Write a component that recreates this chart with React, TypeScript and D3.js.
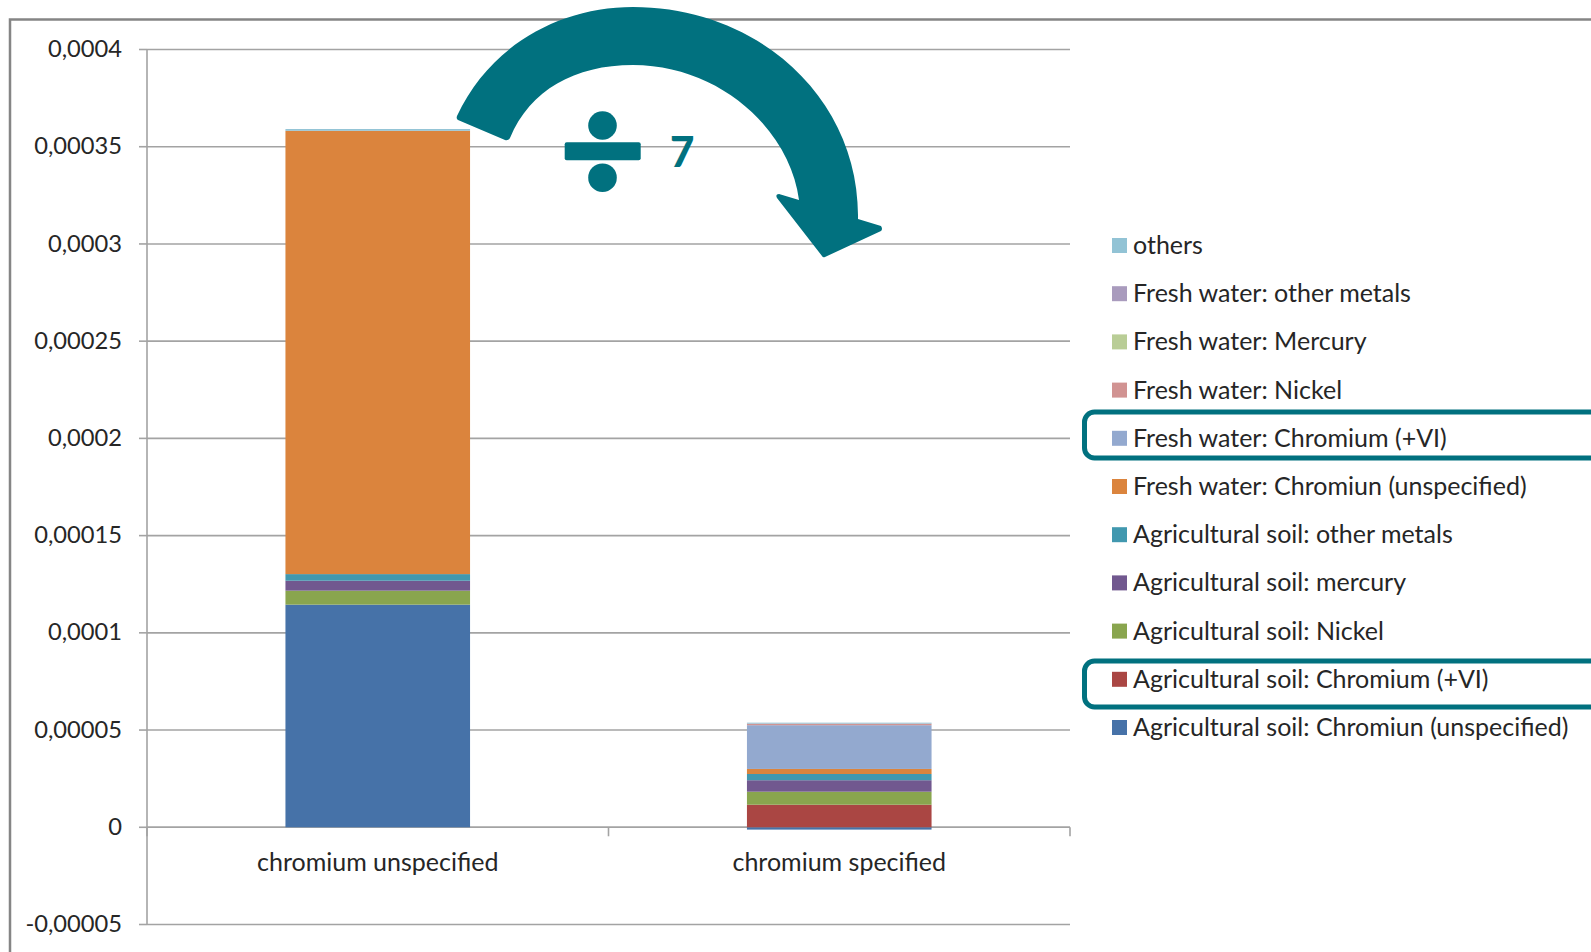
import React, { useEffect, useRef } from "react";
import * as d3 from "d3";

const categories = ["chromium unspecified", "chromium specified"];

const seriesNames = [
  "Agricultural soil: Chromiun (unspecified)",
  "Agricultural soil: Chromium (+VI)",
  "Agricultural soil: Nickel",
  "Agricultural soil: mercury",
  "Agricultural soil: other metals",
  "Fresh water: Chromiun (unspecified)",
  "Fresh water: Chromium (+VI)",
  "Fresh water: Nickel",
  "Fresh water: Mercury",
  "Fresh water: other metals",
  "others",
];

const seriesColors = [
  "#4672a8", "#aa4643", "#89a54e", "#71588f", "#4198af", "#db843d",
  "#93a9cf", "#d19392", "#b9cd96", "#a99bbd", "#92c3d5",
];

const unspecifiedValues = [
  0.0001145, 0, 0.0000072, 0.0000051, 0.0000034, 0.000228, 0, 0, 0, 0, 0.0000009,
];
const specifiedValues = [
  -0.0000012, 0.0000116, 0.0000067, 0.0000059, 0.0000032, 0.0000026, 0.0000225,
  0.0000008, 0, 0, 0.0000005,
];

const yTicks = [-0.00005, 0, 0.00005, 0.0001, 0.00015, 0.0002, 0.00025, 0.0003, 0.00035, 0.0004];
const yTickLabels = ["-0,00005", "0", "0,00005", "0,0001", "0,00015", "0,0002", "0,00025", "0,0003", "0,00035", "0,0004"];

const highlighted = ["Fresh water: Chromium (+VI)", "Agricultural soil: Chromium (+VI)"];
const highlightTops = [412, 661];

const WIDTH = 1591;
const HEIGHT = 952;
const FONT = "Lato, 'Open Sans', sans-serif";
const TEAL = "#01717f";
const AXIS = "#a3a3a3";
const INK = "#262626";

const ARROW_PATH =
  "M457,116 C490,45 560,7 633,7 C760,7 860,100 858,219 L881,226 Q883,229 881,231 L825,257 Q823,258 822,256 " +
  "L777,198 Q775,194 779,194 L799,200 C790,130 720,65 633,65 C575,65 530,90 510,138 Q508,141 505,140 L458,120 Q456,119 457,116 Z";

export default function App() {
  const ref = useRef<SVGSVGElement>(null);

  useEffect(() => {
    const svg = d3.select(ref.current);
    svg.selectAll("*").remove();

    const y = d3.scaleLinear().domain([-0.00005, 0.0004]).range([924.5, 49.5]);
    const x = d3.scaleBand().domain(categories).range([147, 1070]).paddingInner(0.6).paddingOuter(0.3);

    // Outer chart frame, open on the right where it runs off the canvas
    svg.append("path")
      .attr("d", `M${WIDTH + 2},19.5 H10 V${HEIGHT + 2}`)
      .attr("fill", "none")
      .attr("stroke", "#858585")
      .attr("stroke-width", 2.5);

    // Horizontal gridlines
    svg.append("g")
      .attr("transform", "translate(147,0)")
      .call(d3.axisLeft(y).offset(0).tickValues(yTicks).tickSize(-(1070 - 147)).tickFormat(() => "").tickSizeOuter(0))
      .call((g) => g.select(".domain").remove())
      .call((g) => g.selectAll("line").attr("stroke", AXIS).attr("stroke-width", 1.6));

    // Value axis with comma decimal labels
    const yAxis = svg.append("g")
      .attr("transform", "translate(147,0)")
      .call(
        d3.axisLeft(y).offset(0).tickValues(yTicks).tickSize(8).tickPadding(17).tickSizeOuter(0)
          .tickFormat((_, i) => yTickLabels[i]),
      );
    yAxis.selectAll("path,line").attr("stroke", AXIS).attr("stroke-width", 1.6);
    yAxis.selectAll("text").attr("fill", INK).style("font", `23.7px ${FONT}`);

    // Category axis on the zero line, ticks at the band boundaries
    const boundaries = [0, 1, 2];
    const boundaryScale = d3.scaleLinear().domain([0, 2]).range([147, 1070]);
    svg.append("g")
      .attr("transform", `translate(0,${y(0)})`)
      .call(d3.axisBottom(boundaryScale).offset(0).tickValues(boundaries).tickSize(9).tickFormat(() => "").tickSizeOuter(0))
      .call((g) => g.selectAll("path,line").attr("stroke", AXIS).attr("stroke-width", 1.6));
    svg.append("g")
      .attr("transform", `translate(0,${y(0)})`)
      .call(d3.axisBottom(x).tickSize(0).tickPadding(26))
      .call((g) => g.select(".domain").remove())
      .call((g) => g.selectAll("text").attr("fill", INK).style("font", `25px ${FONT}`));

    // Stacked bars, with negatives hanging below the zero line
    const rows = categories.map((c, i) => {
      const row: Record<string, number | string> = { category: c };
      seriesNames.forEach((s, j) => {
        row[s] = (i === 0 ? unspecifiedValues : specifiedValues)[j];
      });
      return row;
    });
    const stacked = d3.stack<any>().keys(seriesNames).offset(d3.stackOffsetDiverging)(rows);
    svg.append("g")
      .selectAll("g")
      .data(stacked)
      .join("g")
      .attr("fill", (_, i) => seriesColors[i])
      .selectAll("rect")
      .data((d) => d)
      .join("rect")
      .attr("x", (d) => x(d.data.category as string)!)
      .attr("width", x.bandwidth())
      .attr("y", (d) => y(Math.max(d[0], d[1])))
      .attr("height", (d) => Math.abs(y(d[0]) - y(d[1])));

    // Legend, top entry is the last series of the stack
    const legendY = d3.scalePoint<string>()
      .domain([...seriesNames].reverse())
      .range([245.5, 727.5]);
    const legend = svg.append("g")
      .selectAll("g")
      .data(seriesNames)
      .join("g")
      .attr("transform", (d) => `translate(1112,${legendY(d)})`);
    legend.append("rect")
      .attr("y", -7.5).attr("width", 15).attr("height", 15)
      .attr("fill", (_, i) => seriesColors[i]);
    legend.append("text")
      .attr("x", 21).attr("dy", "0.34em")
      .attr("fill", INK)
      .style("font", `25px ${FONT}`)
      .text((d) => d);

    // Callout boxes around the hexavalent chromium entries
    svg.append("g")
      .selectAll("rect")
      .data(highlighted)
      .join("rect")
      .attr("x", 1084.5)
      .attr("y", (_, i) => highlightTops[i])
      .attr("width", 560)
      .attr("height", 46)
      .attr("rx", 10)
      .attr("fill", "none")
      .attr("stroke", TEAL)
      .attr("stroke-width", 5);

    // Curved arrow with the division factor
    const note = svg.append("g").attr("fill", TEAL);
    note.append("path").attr("d", ARROW_PATH);
    note.append("circle").attr("cx", 602.5).attr("cy", 125.5).attr("r", 14.3);
    note.append("circle").attr("cx", 602.5).attr("cy", 177.7).attr("r", 14.3);
    note.append("rect").attr("x", 564.7).attr("y", 142.3).attr("width", 76).attr("height", 18).attr("rx", 2);
    note.append("text")
      .attr("x", 670).attr("y", 167)
      .style("font", `900 42px ${FONT}`)
      .text("7");
  }, []);

  return (
    <svg
      ref={ref}
      width={WIDTH}
      height={HEIGHT}
      viewBox={`0 0 ${WIDTH} ${HEIGHT}`}
      style={{ position: "absolute", left: 0, top: 0, background: "#fff" }}
    />
  );
}
